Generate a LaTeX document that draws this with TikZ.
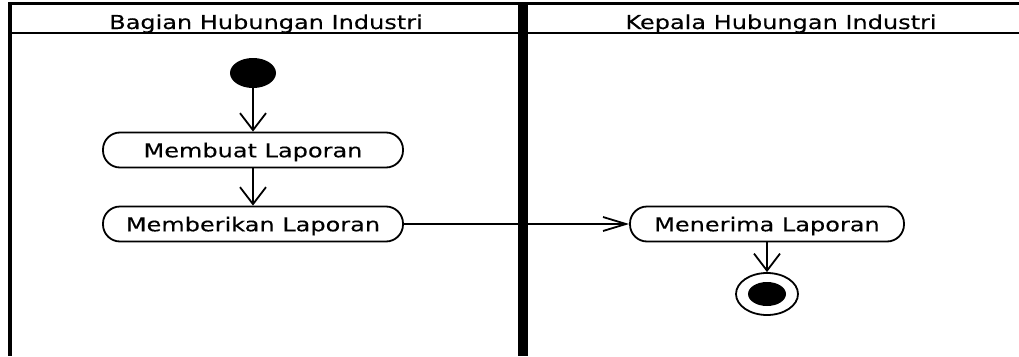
\documentclass[tikz,border=0pt]{standalone}
\usepackage{fontspec}
\usetikzlibrary{arrows.meta,shapes.geometric}
\newfontfamily\umlfont[FakeStretch=1.25,FakeBold=0.25]{DejaVu Sans}
\newcommand{\lanes}{
    \coordinate (top0) at (8,3);
    \coordinate (top1) at (1039,3);
    \coordinate (hd0) at (10,33);
    \coordinate (hd1) at (1039,33);

    \coordinate (lb0) at (10,3);
    \coordinate (lb1) at (10,356);
    \coordinate (mid0) at (523,3);
    \coordinate (mid1) at (523,356);
}
\newcommand{\laneframe}{
    \draw[line width=3pt] (top0) -- (top1); % top edge
    \draw[line width=2pt] (hd0) -- (hd1);
    \draw[line width=4pt] (lb0) -- (lb1);
    \draw[line width=10pt] (mid0) -- (mid1);

    \node[lanetitle,anchor=base] (bagian) at (266,29) {Bagian Hubungan Industri};
    \node[lanetitle,anchor=base] (kepala) at (781,29) {Kepala Hubungan Industri};
}

\begin{document}
\begin{tikzpicture}[x=1pt,y=-1pt]
          \tikzstyle{lanetitle}=[inner sep=0pt,font=\umlfont\fontsize{19.2}{23}\selectfont]
          \tikzstyle{activity}=[draw,line width=1.8pt,rounded corners=17pt,minimum height=35pt,inner sep=0pt,text depth=0pt,font=\umlfont\fontsize{19.2}{23}\selectfont]
          \tikzstyle{initial}=[ellipse,fill=black,minimum width=46pt,minimum height=30pt,inner sep=0pt]
          \tikzstyle{final}=[ellipse,draw,line width=1.8pt,minimum width=62pt,minimum height=42pt,inner sep=0pt]
          \tikzstyle{finaldot}=[ellipse,fill=black,minimum width=38pt,minimum height=24pt,inner sep=0pt]
          \tikzstyle{flow}=[line width=1.8pt,-{Straight Barb[length=17pt,width=26pt]}]
          \tikzstyle{flowh}=[line width=1.8pt,-{Straight Barb[length=23pt,width=14pt]}]

          \useasboundingbox (0,0) rectangle (1019,356);
          \clip (0,0) rectangle (1019,356);
          \lanes;
          \laneframe;

          \node[initial] (start) at (253,73) {};
          \node[activity,minimum width=300pt] (membuat) at (253,150) {Membuat Laporan};
          \node[activity,minimum width=300pt] (memberikan) at (253,224) {Memberikan Laporan};
          \node[activity,minimum width=274pt] (menerima) at (767,224) {Menerima Laporan};
          \node[final] (end) at (767,294) {};
          \node[finaldot] (enddot) at (end) {};

          \draw[flow] (start) -- (membuat);
          \draw[flow] (membuat) -- (memberikan);
          \draw[flowh] (memberikan) -- (menerima);
          \draw[flow] (menerima) -- (end);
        \end{tikzpicture}
\end{document}
